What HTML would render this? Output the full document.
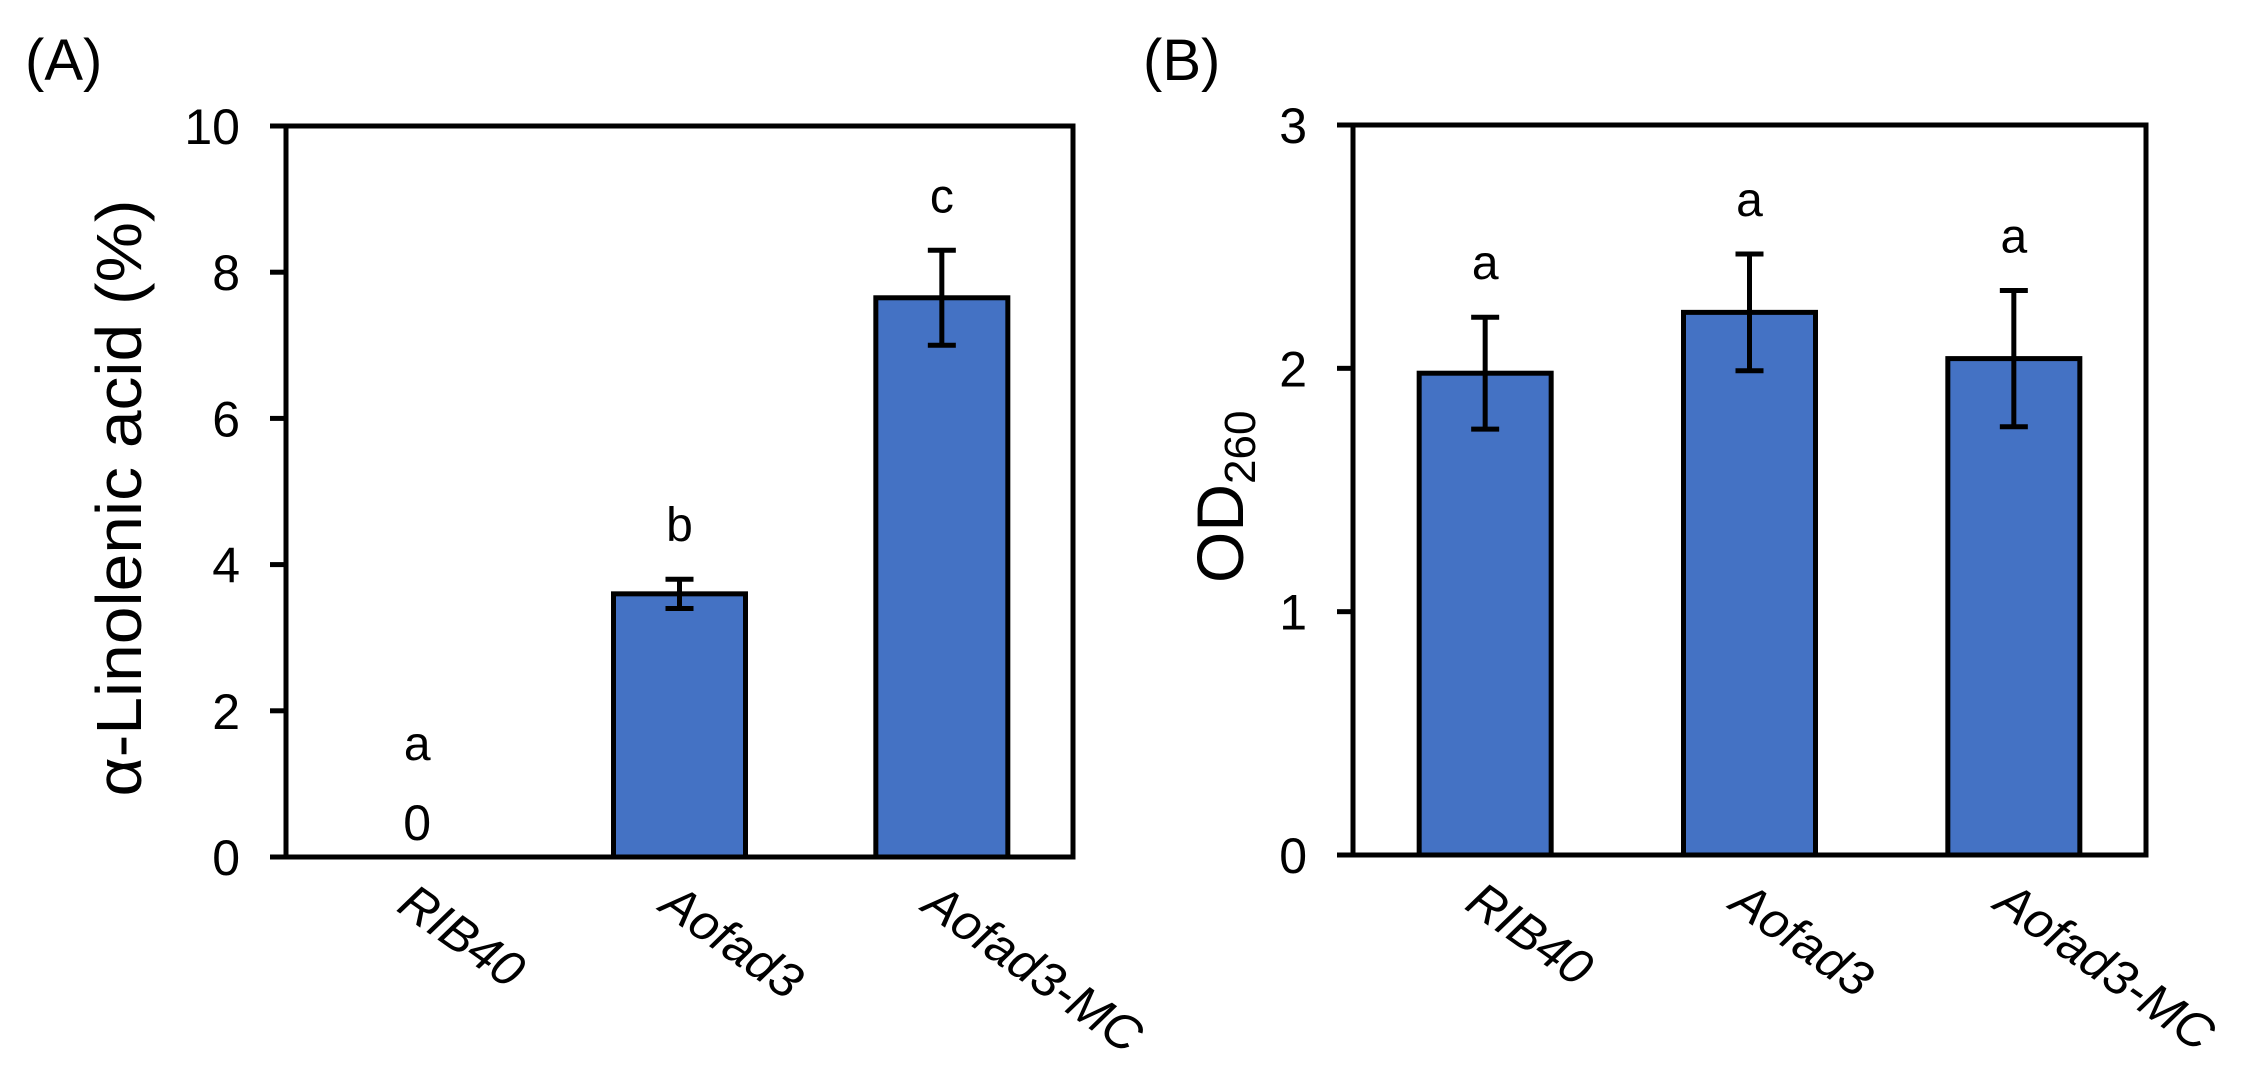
<!DOCTYPE html>
<html><head><meta charset="utf-8"><style>
html,body{margin:0;padding:0;background:#fff;}
svg{display:block;font-family:"Liberation Sans",Arial,sans-serif;}
</style></head><body>
<svg id="fig" width="2259" height="1078" viewBox="0 0 2259 1078"></svg>
<script>
const categories = ["RIB40","Aofad3","Aofad3-MC"];
const valuesA = [0, 3.6, 7.65];
const errA = [0, 0.2, 0.65];
const lettersA = ["a","b","c"];
const ticksA = [0,2,4,6,8,10];
const valuesB = [1.98, 2.23, 2.04];
const errB = [0.23, 0.24, 0.28];
const lettersB = ["a","a","a"];
const ticksB = [0,1,2,3];

const NS="http://www.w3.org/2000/svg";
const svg=document.getElementById('fig');
function mk(tag,attrs,parent,text){const e=document.createElementNS(NS,tag);for(const k in attrs)e.setAttribute(k,attrs[k]);if(text!==undefined)e.textContent=text;(parent||svg).appendChild(e);return e;}

function panel(o){
  const g=mk('g',{});
  
  
  const L=o.left,R=o.right,T=o.top,B=o.bottom,max=o.max;
  const y=v=>B-(v/max)*(B-T);
  const band=(R-L)/categories.length;
  const xc=i=>L+band*(i+0.5);
  const bw=132;
  o.ticks.forEach(t=>{
    const tl=mk('line',{x1:L-16,x2:L,y1:y(t),y2:y(t),stroke:'#000','stroke-width':5},g);
    
    
    const tx=mk('text',{x:L-46,y:y(t)+18,'text-anchor':'end','font-size':50},g,String(t));
    
    
  });
  o.values.forEach((v,i)=>{
    if(v>0){
      const r=mk('rect',{x:xc(i)-bw/2,y:y(v),width:bw,height:B-y(v),fill:'#4472C4',stroke:'#000','stroke-width':5},g);
      
      
    }
    const e=o.err[i];
    if(e>0){
      const eg=mk('g',{stroke:'#000','stroke-width':5},g);
      
      
      mk('line',{x1:xc(i),x2:xc(i),y1:y(v+e),y2:y(v-e)},eg);
      mk('line',{x1:xc(i)-14,x2:xc(i)+14,y1:y(v+e),y2:y(v+e)},eg);
      mk('line',{x1:xc(i)-14,x2:xc(i)+14,y1:y(v-e),y2:y(v-e)},eg);
    }
    let ly = v>0 ? y(v+e)-38 : B-97;
    const lt=mk('text',{x:xc(i),y:ly,'text-anchor':'middle','font-size':48},g,o.letters[i]);
    
    
    if(v===0){
      const zt=mk('text',{x:xc(i),y:B-17,'text-anchor':'middle','font-size':50},g,'0');
      
      
    }
    const xl=mk('text',{transform:`translate(${xc(i)-22},${B+53}) rotate(35)`,'font-size':50,'font-style':'italic'},g,categories[i]);
    
    
  });
  const fr=mk('rect',{x:L,y:T,width:R-L,height:B-T,fill:'none',stroke:'#000','stroke-width':5},g);
  
  
}

panel({name:'panel-a',left:286,right:1073,top:126,bottom:857,max:10,values:valuesA,err:errA,letters:lettersA,ticks:ticksA});
panel({name:'panel-b',left:1353,right:2146,top:125,bottom:855,max:3,values:valuesB,err:errB,letters:lettersB,ticks:ticksB});

const la=mk('text',{x:25,y:80,'font-size':58},svg,'(A)');


const lb=mk('text',{x:1143,y:80,'font-size':58},svg,'(B)');


const ya=mk('text',{transform:'translate(141,498) rotate(-90)','text-anchor':'middle','font-size':64,textLength:597,lengthAdjust:'spacingAndGlyphs'},svg,'α-Linolenic acid (%)');


const yb=mk('text',{transform:'translate(1243,583) rotate(-90)','font-size':66},svg);


mk('tspan',{},yb,'OD');
mk('tspan',{'font-size':44,dy:12},yb,'260');
</script>
</body></html>
